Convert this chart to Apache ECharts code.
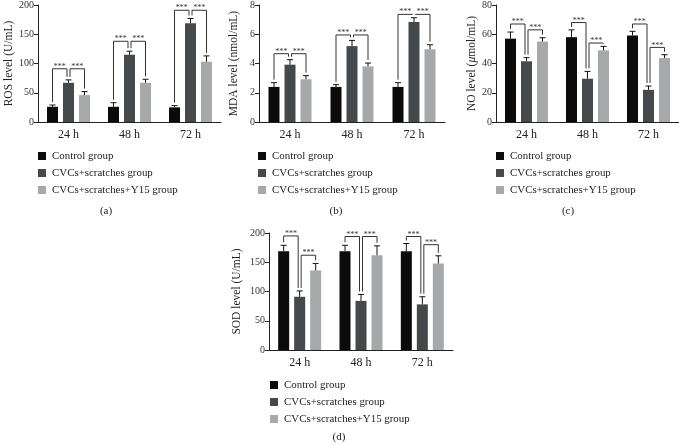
<!DOCTYPE html>
<html>
<head>
<meta charset="utf-8">
<script src="https://cdn.jsdelivr.net/npm/echarts@6/dist/echarts.min.js"></script>
<style>
  html, body { margin: 0; padding: 0; background: #fff; }
  #main { width: 679px; height: 445px; }
</style>
</head>
<body>
<div id="main"></div>
<script>
// categories and groups
var categories = ['24 h', '48 h', '72 h'];
var groupNames = ['Control group', 'CVCs+scratches group', 'CVCs+scratches+Y15 group'];
var groupColors = ['#0b0b0b', '#46494c', '#a6a8aa'];

// (a) ROS
var rosControl = [26, 26, 25],   rosControlErr = [3, 7, 3];
var rosCvc     = [67, 115, 169], rosCvcErr     = [5, 6, 8];
var rosY15     = [46, 67, 103],  rosY15Err     = [6, 6, 10];
var rosBr1 = [91, 138, 191], rosBr2 = [91, 138, 191];

// (b) MDA
var mdaControl = [2.4, 2.4, 2.4],    mdaControlErr = [0.29, 0.15, 0.29];
var mdaCvc     = [3.92, 5.19, 6.83], mdaCvcErr     = [0.34, 0.39, 0.3];
var mdaY15     = [2.92, 3.8, 4.97],  mdaY15Err     = [0.25, 0.23, 0.31];
var mdaBr1 = [4.67, 5.95, 7.36], mdaBr2 = [4.67, 5.95, 7.36];

// (c) NO
var noControl = [57, 58, 59.2],   noControlErr = [4.5, 5, 2.8];
var noCvc     = [41.5, 29.6, 22], noCvcErr     = [2.5, 5, 2.6];
var noY15     = [55, 49, 43.7],   noY15Err     = [2.6, 2.7, 2.3];
var noBr1 = [67, 68, 67], noBr2 = [63, 54, 51];

// (d) SOD
var sodControl = [169, 169, 169], sodControlErr = [10, 10, 13];
var sodCvc     = [91, 84, 78],    sodCvcErr     = [10, 11, 13];
var sodY15     = [136, 162, 148], sodY15Err     = [12, 16, 13];
var sodBr1 = [195, 194, 194], sodBr2 = [162, 194, 180];

var panels = [
  { means: [rosControl, rosCvc, rosY15], errs: [rosControlErr, rosCvcErr, rosY15Err], br1: rosBr1, br2: rosBr2,
    max: 200, step: 50, name: 'ROS level (U/mL)', gap: 22,
    grid: { left: 38, top: 5, width: 183, height: 117 }, legend: { left: 38, top: 150 }, tag: '(a)', tagPos: [106, 211] },
  { means: [mdaControl, mdaCvc, mdaY15], errs: [mdaControlErr, mdaCvcErr, mdaY15Err], br1: mdaBr1, br2: mdaBr2,
    max: 8, step: 2, name: 'MDA level (nmol/mL)', gap: 19,
    grid: { left: 259, top: 5, width: 186, height: 117 }, legend: { left: 258, top: 150 }, tag: '(b)', tagPos: [336, 211] },
  { means: [noControl, noCvc, noY15], errs: [noControlErr, noCvcErr, noY15Err], br1: noBr1, br2: noBr2,
    max: 80, step: 20, name: 'NO level ({i|μ}mol/mL)', gap: 16,
    grid: { left: 496, top: 5, width: 184, height: 117 }, legend: { left: 496, top: 150 }, tag: '(c)', tagPos: [568, 211] },
  { means: [sodControl, sodCvc, sodY15], errs: [sodControlErr, sodCvcErr, sodY15Err], br1: sodBr1, br2: sodBr2,
    max: 200, step: 50, name: 'SOD level (U/mL)', gap: 26,
    grid: { left: 269, top: 233, width: 184, height: 117 }, legend: { left: 270, top: 379 }, tag: '(d)', tagPos: [339, 437] }
];

var FONT = '"Liberation Serif", "DejaVu Serif", serif';
var BAR_W = 11, BAR_GAP = 5, STEP = BAR_W + BAR_GAP, CAP = 3, LEG_GAP = 3;

function errItem(params, api) {
  var cat = api.value(0), mean = api.value(1), err = api.value(2), k = api.value(3);
  var base = api.coord([cat, mean]);
  var top = api.coord([cat, mean + err]);
  var x = base[0] + (k - 1) * STEP;
  var st = { stroke: '#111', lineWidth: 1 };
  return { type: 'group', children: [
    { type: 'line', shape: { x1: x, y1: base[1], x2: x, y2: top[1] }, style: st },
    { type: 'line', shape: { x1: x - CAP, y1: top[1], x2: x + CAP, y2: top[1] }, style: st }
  ]};
}

function bracketItem(params, api) {
  var cat = api.value(0), h = api.value(1), kL = api.value(2), kR = api.value(3);
  var topL = api.value(4), topR = api.value(5);
  var c = api.coord([cat, h]);
  var xL = c[0] + (kL - 1) * STEP + (kL === 1 ? 1.5 : 0);
  var xR = c[0] + (kR - 1) * STEP - (kR === 1 ? 1.5 : 0);
  var yL = api.coord([cat, topL])[1] - LEG_GAP;
  var yR = api.coord([cat, topR])[1] - LEG_GAP;
  return { type: 'group', children: [
    { type: 'polyline', shape: { points: [[xL, yL], [xL, c[1]], [xR, c[1]], [xR, yR]] },
      style: { stroke: '#333', lineWidth: 1, fill: null } },
    { type: 'text', x: (xL + xR) / 2, y: c[1] + 2,
      style: { text: '***', fontSize: 8, fontFamily: FONT, fill: '#333', align: 'center', verticalAlign: 'bottom' } }
  ]};
}

var grids = [], xAxes = [], yAxes = [], series = [], legends = [], graphics = [];

panels.forEach(function (p, pi) {
  grids.push(p.grid);
  xAxes.push({
    type: 'category', gridIndex: pi, data: categories,
    axisLine: { lineStyle: { color: '#222', width: 1 } },
    axisTick: { alignWithLabel: true, length: 4, lineStyle: { color: '#222' } },
    axisLabel: { fontSize: 12, fontFamily: FONT, color: '#222', margin: 7 }
  });
  yAxes.push({
    type: 'value', gridIndex: pi, min: 0, max: p.max, interval: p.step,
    name: p.name, nameLocation: 'middle', nameGap: p.gap,
    nameTextStyle: { fontSize: 11.5, fontFamily: FONT, color: '#222',
      rich: { i: { fontSize: 11.5, fontFamily: FONT, fontStyle: 'italic', color: '#222' } } },
    axisLine: { show: true, lineStyle: { color: '#222', width: 1 } },
    axisTick: { show: true, length: 4, lineStyle: { color: '#222' } },
    axisLabel: { fontSize: 10, fontFamily: FONT, color: '#333', margin: 4 },
    splitLine: { show: false }
  });

  for (var k = 0; k < 3; k++) {
    series.push({
      type: 'bar', name: groupNames[k], xAxisIndex: pi, yAxisIndex: pi,
      data: p.means[k], barWidth: BAR_W, barGap: (BAR_GAP / BAR_W * 100) + '%',
      itemStyle: { color: groupColors[k] }, silent: true
    });
  }

  var errData = [];
  for (var k2 = 0; k2 < 3; k2++) {
    for (var c = 0; c < categories.length; c++) {
      errData.push([c, p.means[k2][c], p.errs[k2][c], k2]);
    }
  }
  series.push({ type: 'custom', xAxisIndex: pi, yAxisIndex: pi, renderItem: errItem, data: errData, z: 5, silent: true });

  var brData = [];
  for (var c2 = 0; c2 < categories.length; c2++) {
    var tops = [0, 1, 2].map(function (k) { return p.means[k][c2] + p.errs[k][c2]; });
    brData.push([c2, p.br1[c2], 0, 1, tops[0], tops[1]]);
    brData.push([c2, p.br2[c2], 1, 2, tops[1], tops[2]]);
  }
  series.push({ type: 'custom', xAxisIndex: pi, yAxisIndex: pi, renderItem: bracketItem, data: brData, z: 6, silent: true });

  legends.push({
    data: groupNames, orient: 'vertical', left: p.legend.left, top: p.legend.top, padding: 0,
    icon: 'rect', itemWidth: 8, itemHeight: 8, itemGap: 5, selectedMode: false,
    textStyle: { fontSize: 10.9, fontFamily: FONT, color: '#222', lineHeight: 12, padding: [0, 0, 0, 1] }
  });

  graphics.push({
    type: 'text', x: p.tagPos[0], y: p.tagPos[1],
    style: { text: p.tag, fontSize: 11, fontFamily: FONT, fill: '#222', align: 'center', verticalAlign: 'middle' }
  });
});

var chart = echarts.init(document.getElementById('main'));
chart.setOption({
  backgroundColor: '#fff',
  animation: false,
  grid: grids,
  xAxis: xAxes,
  yAxis: yAxes,
  legend: legends,
  graphic: graphics,
  series: series
});
</script>
</body>
</html>
